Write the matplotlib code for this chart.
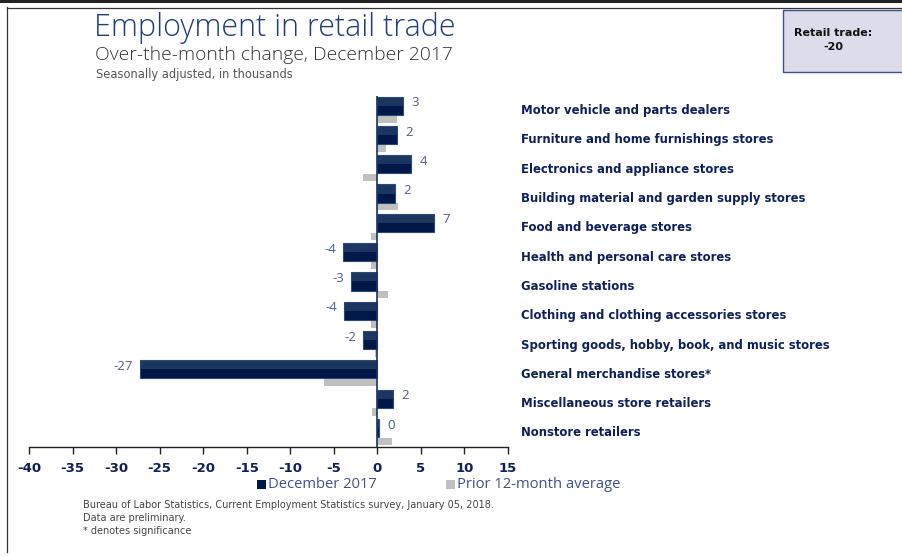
import matplotlib
matplotlib.use("Agg")
import matplotlib.pyplot as plt
import matplotlib.transforms as mtransforms
from matplotlib.patches import Rectangle
from matplotlib.lines import Line2D

categories = [
    "Motor vehicle and parts dealers",
    "Furniture and home furnishings stores",
    "Electronics and appliance stores",
    "Building material and garden supply stores",
    "Food and beverage stores",
    "Health and personal care stores",
    "Gasoline stations",
    "Clothing and clothing accessories stores",
    "Sporting goods, hobby, book, and music stores",
    "General merchandise stores*",
    "Miscellaneous store retailers",
    "Nonstore retailers",
]
dec_2017 = [3.0, 2.3, 3.9, 2.0, 6.5, -3.9, -3.0, -3.8, -1.6, -27.3, 1.8, 0.2]
dec_labels = ["3", "2", "4", "2", "7", "-4", "-3", "-4", "-2", "-27", "2", "0"]
prior_avg = [2.2, 1.0, -1.6, 2.4, -0.7, -0.7, 1.2, -0.7, -0.3, -6.1, -0.6, 1.7]
xticks = [-40, -35, -30, -25, -20, -15, -10, -5, 0, 5, 10, 15]

W, H = 902, 556
fig = plt.figure(figsize=(W / 100, H / 100), dpi=100)
fig.patch.set_facecolor("white")

def fx(px):
    return px / W

def fy(py):
    return 1 - py / H

ax = fig.add_axes([fx(29), fy(447), fx(508) - fx(29), fy(96) - fy(447)])
ax.set_xlim(-40, 15)
ax.set_ylim(11.48, -0.5)

navy_top = "#1c375f"
navy_bot = "#001848"
gray = "#c0c0c0"
label_navy = "#0d1f5c"
value_col = "#4f5f8c"

ys = list(range(len(categories)))
# December bars: two-tone
ax.barh([y - 0.325 for y in ys], dec_2017, height=0.31, color=navy_top, zorder=3)
ax.barh([y - 0.015 for y in ys], dec_2017, height=0.31, color=navy_bot, zorder=3)
ax.barh([y - 0.17 for y in ys], dec_2017, height=0.62, fill=False,
        edgecolor="#2c4a78", linewidth=0.8, zorder=4)
# Prior average bars
ax.barh([y + 0.285 for y in ys], prior_avg, height=0.24, color=gray, zorder=2)

# value labels
for y, v, lab in zip(ys, dec_2017, dec_labels):
    if v >= 0:
        ax.annotate(lab, (v, y - 0.27), xytext=(6, 0), textcoords="offset points",
                    ha="left", va="center", fontsize=9.5, color=value_col,
                    family="Open Sans")
    else:
        ax.annotate(lab, (v, y - 0.27), xytext=(-5, 0), textcoords="offset points",
                    ha="right", va="center", fontsize=9.5, color=value_col,
                    family="Open Sans")

# category labels
trans = mtransforms.blended_transform_factory(ax.transAxes, ax.transData)
xlab = (521 - 29) / (508 - 29)
for y, c in zip(ys, categories):
    ax.text(xlab, y, c, transform=trans, ha="left", va="center",
            fontsize=8.4, fontweight="bold", color=label_navy,
            family="DejaVu Sans", clip_on=False)

ax.axvline(0, color="#1c2f6a", linewidth=1.2, zorder=5)

for s in ["top", "right", "left"]:
    ax.spines[s].set_visible(False)
ax.spines["bottom"].set_color("#222222")
ax.spines["bottom"].set_linewidth(1.0)
ax.set_yticks([])
ax.set_xticks(xticks)
ax.set_xticklabels([str(t) for t in xticks])
ax.tick_params(axis="x", direction="out", length=5, width=1, color="#222222",
               labelsize=9.5, labelcolor=label_navy, pad=6)
for t in ax.get_xticklabels():
    t.set_fontweight("bold")
ax.set_facecolor("none")

# Titles
fig.text(fx(94), fy(28), "Employment in retail trade", fontsize=22,
         color="#1f3d7a", ha="left", va="center", family="Open Sans",
         fontweight="light")
fig.text(fx(95), fy(55), "Over-the-month change, December 2017", fontsize=13.9,
         color="#333333", ha="left", va="center", family="Open Sans",
         fontweight="light")
fig.text(fx(96), fy(74), "Seasonally adjusted, in thousands", fontsize=8.3,
         color="#555555", ha="left", va="center", family="DejaVu Sans")

# Retail trade box
fig.patches.append(Rectangle((fx(783), fy(72)), fx(130), fy(10) - fy(72),
                             transform=fig.transFigure, facecolor="#dcdcea",
                             edgecolor="#3d4f8c", linewidth=1.0))
fig.text(fx(833), fy(33), "Retail trade:", fontsize=8, fontweight="bold",
         color="#111111", ha="center", va="center", family="DejaVu Sans")
fig.text(fx(833), fy(47), "-20", fontsize=8, fontweight="bold",
         color="#111111", ha="center", va="center", family="DejaVu Sans")

# Frame lines
fig.lines.append(Line2D([0, 1], [fy(1), fy(1)], transform=fig.transFigure,
                        color="#222222", linewidth=2.2))
fig.lines.append(Line2D([fx(7), 1], [fy(7.5), fy(7.5)], transform=fig.transFigure,
                        color="#333333", linewidth=0.9))
fig.lines.append(Line2D([fx(7.5), fx(7.5)], [fy(7), fy(552)], transform=fig.transFigure,
                        color="#333333", linewidth=0.9))

# Legend
fig.patches.append(Rectangle((fx(257), fy(489)), fx(9), fy(480) - fy(489),
                             transform=fig.transFigure, facecolor=navy_bot,
                             edgecolor="none"))
fig.text(fx(268), fy(484), "December 2017", fontsize=10.6, color="#3f4f8c",
         ha="left", va="center", family="Open Sans")
fig.patches.append(Rectangle((fx(446), fy(489)), fx(9), fy(480) - fy(489),
                             transform=fig.transFigure, facecolor=gray,
                             edgecolor="none"))
fig.text(fx(457), fy(484), "Prior 12-month average", fontsize=10.6, color="#3f4f8c",
         ha="left", va="center", family="Open Sans")

# Footnotes
foot = ["Bureau of Labor Statistics, Current Employment Statistics survey, January 05, 2018.",
        "Data are preliminary.",
        "* denotes significance"]
for i, line in enumerate(foot):
    fig.text(fx(83), fy(505 + 13 * i), line, fontsize=7, color="#444444",
             ha="left", va="center", family=["Liberation Sans Narrow", "DejaVu Sans"])

fig.savefig("out.png", dpi=100)
